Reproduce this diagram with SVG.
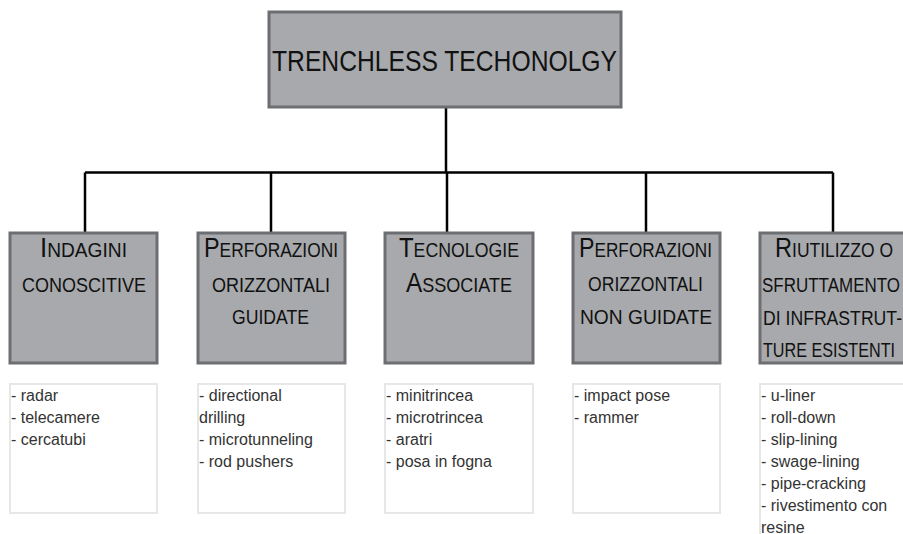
<svg xmlns="http://www.w3.org/2000/svg" width="903" height="534" viewBox="0 0 903 534">
<style>
.box{fill:#a7a9ac;stroke:#6d6e71;stroke-width:3}
.list{fill:#ffffff;stroke:#e6e7e8;stroke-width:2}
.conn{stroke:#000;stroke-width:2.5;fill:none}
.t{font-family:"Liberation Sans",Arial,sans-serif;fill:#111;text-anchor:middle}
.h{font-size:20px}
.h tspan.b{font-size:27px}
.l{font-family:"Liberation Sans",Arial,sans-serif;font-size:16px;fill:#333}
</style>
<rect width="903" height="534" fill="#fff"/>
<g id="connectors">
<path class="conn" d="M446 107V172.5M85 172.5H833M85 172.5V233M271 172.5V233M447 172.5V233M646 172.5V233M833 172.5V233"/>
</g>
<g id="root">
<rect class="box" x="269" y="12" width="352" height="95"/>
<text class="t" x="444.5" y="71" font-size="30" textLength="345" lengthAdjust="spacingAndGlyphs">TRENCHLESS TECHONOLGY</text>
</g>
<g id="n1">
<rect class="box" x="10" y="233" width="147" height="130"/>
<text class="t h" x="83.5" y="257" textLength="87" lengthAdjust="spacingAndGlyphs"><tspan class="b">I</tspan>NDAGINI</text>
<text class="t h" x="84" y="292" textLength="124" lengthAdjust="spacingAndGlyphs">CONOSCITIVE</text>
</g>
<g id="n2">
<rect class="box" x="198" y="233" width="147" height="130"/>
<text class="t h" x="271" y="257" textLength="134" lengthAdjust="spacingAndGlyphs"><tspan class="b">P</tspan>ERFORAZIONI</text>
<text class="t h" x="271" y="292" textLength="118" lengthAdjust="spacingAndGlyphs">ORIZZONTALI</text>
<text class="t h" x="270.5" y="324" textLength="77" lengthAdjust="spacingAndGlyphs">GUIDATE</text>
</g>
<g id="n3">
<rect class="box" x="385" y="233" width="148" height="130"/>
<text class="t h" x="459" y="257" textLength="120" lengthAdjust="spacingAndGlyphs"><tspan class="b">T</tspan>ECNOLOGIE</text>
<text class="t h" x="459" y="292" textLength="106" lengthAdjust="spacingAndGlyphs"><tspan class="b">A</tspan>SSOCIATE</text>
</g>
<g id="n4">
<rect class="box" x="573" y="233" width="147" height="130"/>
<text class="t h" x="645.5" y="257" textLength="133" lengthAdjust="spacingAndGlyphs"><tspan class="b">P</tspan>ERFORAZIONI</text>
<text class="t h" x="645.5" y="291" textLength="115" lengthAdjust="spacingAndGlyphs">ORIZZONTALI</text>
<text class="t h" x="646" y="324" textLength="132" lengthAdjust="spacingAndGlyphs">NON GUIDATE</text>
</g>
<g id="n5">
<rect class="box" x="760" y="233" width="147" height="130"/>
<text class="t h" x="834" y="257" textLength="118" lengthAdjust="spacingAndGlyphs"><tspan class="b">R</tspan>IUTILIZZO O</text>
<text class="t h" x="831" y="292" textLength="138" lengthAdjust="spacingAndGlyphs">SFRUTTAMENTO</text>
<text class="t h" x="832.5" y="325" textLength="139" lengthAdjust="spacingAndGlyphs">DI INFRASTRUT-</text>
<text class="t h" x="829" y="357" textLength="132" lengthAdjust="spacingAndGlyphs">TURE ESISTENTI</text>
</g>
<g id="l1">
<rect class="list" x="10" y="384" width="147" height="129"/>
<text class="l" x="11" y="401">- radar</text>
<text class="l" x="11" y="423">- telecamere</text>
<text class="l" x="11" y="445">- cercatubi</text>
</g>
<g id="l2">
<rect class="list" x="198" y="384" width="147" height="129"/>
<text class="l" x="199" y="401">- directional</text>
<text class="l" x="199" y="423">drilling</text>
<text class="l" x="199" y="445">- microtunneling</text>
<text class="l" x="199" y="467">- rod pushers</text>
</g>
<g id="l3">
<rect class="list" x="385" y="384" width="148" height="129"/>
<text class="l" x="386" y="401">- minitrincea</text>
<text class="l" x="386" y="423">- microtrincea</text>
<text class="l" x="386" y="445">- aratri</text>
<text class="l" x="386" y="467">- posa in fogna</text>
</g>
<g id="l4">
<rect class="list" x="573" y="384" width="147" height="129"/>
<text class="l" x="574" y="401">- impact pose</text>
<text class="l" x="574" y="423">- rammer</text>
</g>
<g id="l5">
<rect class="list" x="760" y="384" width="147" height="160"/>
<text class="l" x="761" y="401">- u-liner</text>
<text class="l" x="761" y="423">- roll-down</text>
<text class="l" x="761" y="445">- slip-lining</text>
<text class="l" x="761" y="467">- swage-lining</text>
<text class="l" x="761" y="489">- pipe-cracking</text>
<text class="l" x="761" y="511">- rivestimento con</text>
<text class="l" x="761" y="533">resine</text>
</g>
</svg>
